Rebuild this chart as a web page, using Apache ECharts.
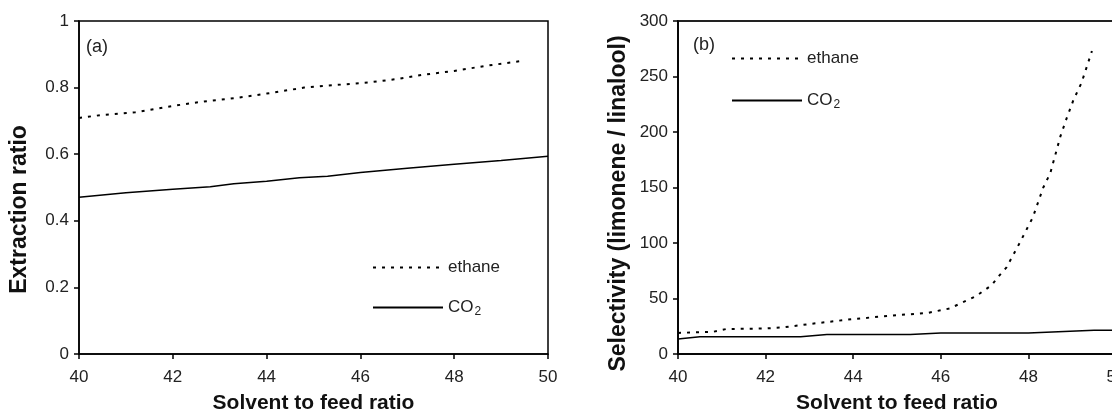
<!DOCTYPE html>
<html>
<head>
<meta charset="utf-8">
<script src="https://cdn.jsdelivr.net/npm/echarts@6/dist/echarts.min.js"></script>
<style>
html,body{margin:0;padding:0;background:#fff;}
#c{width:1112px;height:412px;}
</style>
</head>
<body>
<div id="c"></div>
<script>
// Panel (a): extraction ratio vs solvent to feed ratio
const aEthaneX = [40, 40.5, 41.2, 42, 42.6, 43.3, 44, 44.8, 45.5, 46.2, 46.8, 47.3, 48, 48.7, 49.45];
const aEthaneY = [0.709, 0.718, 0.726, 0.745, 0.757, 0.768, 0.782, 0.800, 0.808, 0.816, 0.826, 0.838, 0.850, 0.866, 0.880];
const aCO2X = [40, 41, 42, 42.8, 43.3, 44, 44.7, 45.3, 46, 47, 48, 49, 50];
const aCO2Y = [0.471, 0.484, 0.495, 0.502, 0.511, 0.519, 0.529, 0.534, 0.545, 0.558, 0.570, 0.581, 0.594];
// Panel (b): selectivity (limonene / linalool)
const bEthaneX = [40, 40.8, 41.1, 42, 42.4, 43, 44, 45, 45.7, 46.2, 46.8, 47.16, 47.32, 47.5, 47.8, 48.1, 48.34, 48.5, 48.73, 48.87, 49.03, 49.21, 49.36, 49.45];
const bEthaneY = [19, 20, 22.5, 23, 24, 27, 31.5, 35, 37, 41, 52, 62, 70, 78, 100, 123, 150, 163, 196, 212, 229, 244, 262, 273];
const bCO2X = [40, 40.5, 42.8, 43.4, 45.3, 46, 48, 49.5, 50];
const bCO2Y = [13.5, 15.5, 15.5, 17.5, 17.5, 19, 19, 21.5, 21.5];
// Axis ranges / labels
const xRange = [40, 50, 2];
const aYRange = [0, 1, 0.2];
const bYRange = [0, 300, 50];
const seriesNames = ['ethane', 'CO2'];
const panelLabels = ['(a)', '(b)'];
const xTitle = 'Solvent to feed ratio';
const aYTitle = 'Extraction ratio';
const bYTitle = 'Selectivity (limonene / linalool)';

const zip = (xs, ys) => xs.map((x, i) => [x, ys[i]]);
const FONT = "'Liberation Sans', Arial, sans-serif";
const ethaneStyle = {color: '#000', width: 2, type: [3, 6]};
const co2Style = {color: '#000', width: 1.5, type: 'solid'};

function xAxisOf(gi) {
  return {
    type: 'value', gridIndex: gi, min: xRange[0], max: xRange[1], interval: xRange[2],
    name: xTitle, nameLocation: 'middle', nameGap: 39,
    nameTextStyle: {fontFamily: FONT, fontSize: 21, fontWeight: 'bold', color: '#111'},
    axisLine: {show: true, lineStyle: {color: '#000', width: 1.5}},
    axisTick: {show: true, length: 5, lineStyle: {color: '#000', width: 1.5}},
    axisLabel: {fontFamily: FONT, fontSize: 17, color: '#222', margin: 15},
    splitLine: {show: false}
  };
}
function yAxisOf(gi, r, title, pad) {
  return {
    type: 'value', gridIndex: gi, min: r[0], max: r[1], interval: r[2],
    name: title, nameLocation: 'middle', nameGap: 48,
    nameTextStyle: {fontFamily: FONT, fontSize: 23, fontWeight: 'bold', color: '#111', padding: [0, pad, 0, 0]},
    axisLine: {show: true, lineStyle: {color: '#000', width: 1.5}},
    axisTick: {show: true, length: 5, lineStyle: {color: '#000', width: 1.5}},
    axisLabel: {fontFamily: FONT, fontSize: 17, color: '#222', margin: 10},
    splitLine: {show: false}
  };
}
const legendRich = {
  a: {fontFamily: FONT, fontSize: 17, color: '#222', lineHeight: 20},
  b: {fontFamily: FONT, fontSize: 12, color: '#222', padding: [9, 0, 0, 1], lineHeight: 12}
};
function legendOf(left, top, gap) {
  return {
    orient: 'vertical', left: left, top: top, padding: 0, itemGap: gap,
    itemWidth: 70, itemHeight: 14, data: seriesNames,
    selectedMode: false,
    itemStyle: {opacity: 0},
    formatter: n => n === 'CO2' ? '{a|CO}{b|2}' : '{a|' + n + '}',
    textStyle: {fontFamily: FONT, fontSize: 17, color: '#222', rich: legendRich}
  };
}

const chart = echarts.init(document.getElementById('c'), null, {renderer: 'canvas'});
chart.setOption({
  animation: false,
  backgroundColor: '#fff',
  title: [
    {text: panelLabels[0], left: 86, top: 38, padding: 0, textStyle: {fontFamily: FONT, fontSize: 18, fontWeight: 'normal', color: '#222'}},
    {text: panelLabels[1], left: 693, top: 36, padding: 0, textStyle: {fontFamily: FONT, fontSize: 18, fontWeight: 'normal', color: '#222'}}
  ],
  legend: [legendOf(372, 259, 21), legendOf(731, 50, 23)],
  grid: [
    {left: 79, width: 469, top: 21, height: 333, show: true, borderColor: '#000', borderWidth: 1.5, backgroundColor: 'transparent', outerBoundsMode: 'none', containLabel: false},
    {left: 678, width: 438, top: 21, height: 333, show: true, borderColor: '#222', borderWidth: 2, backgroundColor: 'transparent', outerBoundsMode: 'none', containLabel: false}
  ],
  xAxis: [xAxisOf(0), xAxisOf(1)],
  yAxis: [yAxisOf(0, aYRange, aYTitle, 44), yAxisOf(1, bYRange, bYTitle, 32)],
  series: [
    {name: 'ethane', type: 'line', xAxisIndex: 0, yAxisIndex: 0, data: zip(aEthaneX, aEthaneY), symbol: 'none', lineStyle: ethaneStyle, itemStyle: {color: '#000'}},
    {name: 'CO2', type: 'line', xAxisIndex: 0, yAxisIndex: 0, data: zip(aCO2X, aCO2Y), symbol: 'none', lineStyle: co2Style, itemStyle: {color: '#000'}},
    {name: 'ethane', type: 'line', xAxisIndex: 1, yAxisIndex: 1, data: zip(bEthaneX, bEthaneY), symbol: 'none', lineStyle: ethaneStyle, itemStyle: {color: '#000'}},
    {name: 'CO2', type: 'line', xAxisIndex: 1, yAxisIndex: 1, data: zip(bCO2X, bCO2Y), symbol: 'none', lineStyle: co2Style, itemStyle: {color: '#000'}}
  ]
});
</script>
</body>
</html>
